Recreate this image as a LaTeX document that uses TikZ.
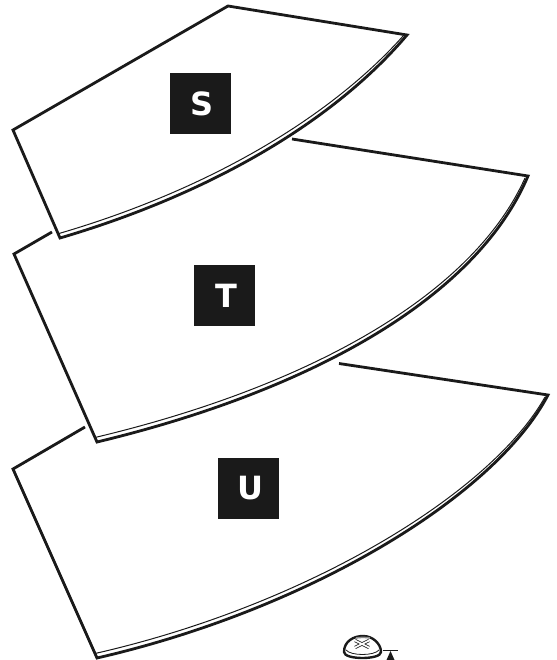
\documentclass[tikz,border=0pt]{standalone}
\usepackage{fontspec}
\setmainfont{DejaVu Sans}
\definecolor{inkk}{HTML}{1A1A1A}
\newcommand{\lettermark}[1]{\raisebox{-1pt}{\hspace*{3pt}#1}}
\tikzset{
  edgeline/.style={line width=2.8pt,inkk,line join=miter},
  innerline/.style={line width=1pt,inkk},
  letterbox/.style={fill=inkk,text=white,minimum size=61pt,inner sep=0pt,font=\bfseries\fontsize{32}{32}\selectfont}
}
\begin{document}
\begin{tikzpicture}[x=1pt,y=-1pt]
\useasboundingbox (0,0) rectangle (556,660);
\fill[white] (0,0) rectangle (556,660);
% S
\coordinate (s1) at (228,6);
\coordinate (s2) at (407,35);
\coordinate (s3) at (60,238);
\coordinate (s4) at (13,130);
\draw[edgeline] (s4) -- (s1) -- (s2) .. controls (335,120) and (213,193) .. (s3) -- cycle;
\draw[innerline] (404,35) .. controls (332,116) and (211,189) .. (59,233.5);
% T
\coordinate (t0) at (52,232);
\coordinate (t1) at (14,254);
\coordinate (t2) at (97,442);
\coordinate (t3) at (528,176);
\coordinate (t4) at (292,139);
\draw[edgeline] (t0) -- (t1) -- (t2) .. controls (305,392) and (475,301) .. (t3) -- (t4);
\draw[innerline] (95,437.5) .. controls (303,388) and (471,298) .. (525,178);
% U
\coordinate (u0) at (85,427);
\coordinate (u1) at (13,469);
\coordinate (u2) at (97,658);
\coordinate (u3) at (548,395);
\coordinate (u4) at (339,363.5);
\draw[edgeline] (u0) -- (u1) -- (u2) .. controls (310,609) and (495,496) .. (u3) -- (u4);
\draw[innerline] (95,653.5) .. controls (308,605) and (491,493) .. (545,397);
% letters
\node[letterbox] (S) at (200.5,104) {\lettermark{S}};
\node[letterbox] (T) at (224.5,295.5) {\lettermark{T}};
\node[letterbox] (U) at (248.5,488) {\lettermark{U}};
% icon
\draw[line width=2.4pt,inkk,fill=white] (344,652) .. controls (344,641) and (354,636) .. (363,636) .. controls (373,636) and (381,644) .. (381,652) .. controls (381,660) and (344,660) .. (344,652) -- cycle;
\draw[line width=.8pt,inkk] (346,650) .. controls (351,656) and (374,656) .. (379,650);
\draw[line width=1.5pt,black!45] (356,638) .. controls (360,637.2) and (366,637.2) .. (370,638);
\draw[line width=3.2pt,inkk] (355,640.5) -- (369,647.5) (369,640.5) -- (355,647.5);
\draw[line width=1.7pt,white] (354.5,640.3) -- (369.5,647.7) (369.5,640.3) -- (354.5,647.7);
\fill[inkk] (390.5,651) -- (394.5,660) -- (386.5,660) -- cycle;
\draw[line width=1.2pt,inkk] (383,650.5) -- (398,650.5);
\end{tikzpicture}
\end{document}
